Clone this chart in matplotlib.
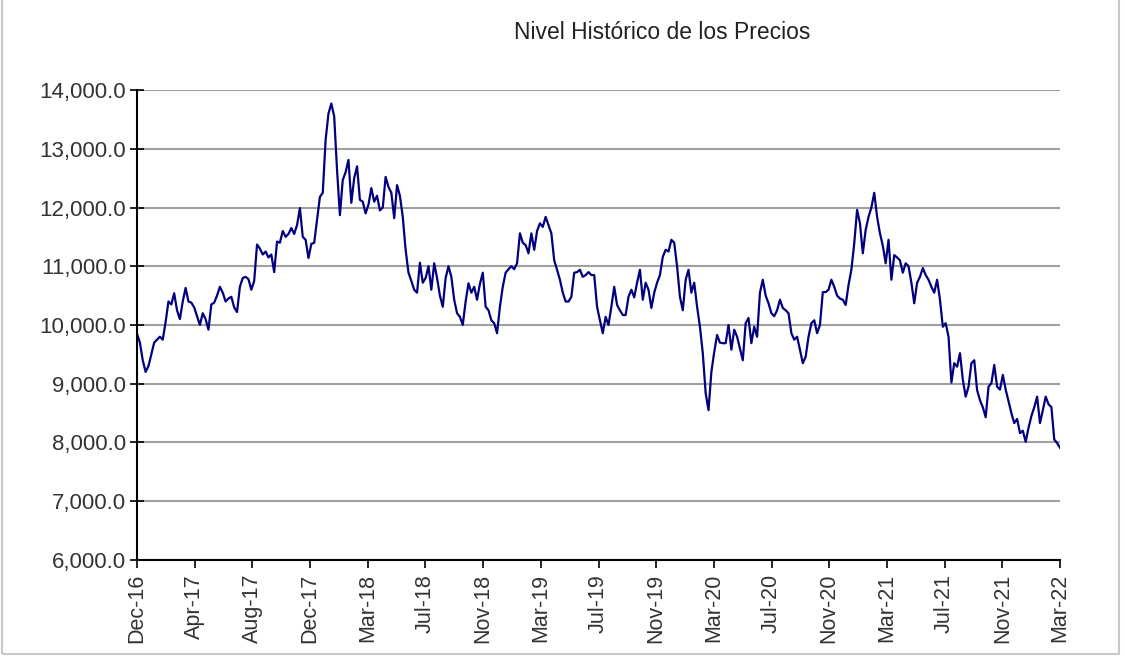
import numpy as np
import matplotlib
matplotlib.use('Agg')
import matplotlib.pyplot as plt
from matplotlib.ticker import FuncFormatter
from matplotlib.patches import Rectangle

plt.rcParams['font.family'] = ['Liberation Sans', 'DejaVu Sans']

title = 'Nivel Histórico de los Precios'

# approx. weekly price level, Dec-16 .. Mar-22
precios = [
    9850, 9700, 9400, 9200, 9300, 9500, 9700, 9750, 9800, 9750,
    10050, 10400, 10350, 10540, 10250, 10100, 10400, 10630, 10400, 10380,
    10300, 10150, 10000, 10200, 10100, 9920, 10350, 10380, 10500, 10650,
    10550, 10400, 10450, 10480, 10300, 10220, 10650, 10800, 10820,
    10780, 10600, 10750, 11370, 11300, 11200, 11250, 11150, 11200, 10900,
    11420, 11400, 11600, 11500, 11550, 11650, 11550, 11700, 11990, 11500,
    11450, 11140, 11380, 11400, 11790, 12180, 12250, 13150, 13600, 13770,
    13550, 12640, 11870, 12470, 12600, 12810, 12080, 12500, 12700, 12130,
    12100, 11900, 12050, 12330, 12100, 12200, 11950, 12000, 12520, 12350,
    12250, 11820, 12380, 12200, 11840, 11280, 10890, 10750, 10600, 10550,
    11060, 10720, 10800, 11000, 10600, 11050, 10800, 10500, 10310, 10800,
    11000, 10820, 10430, 10200, 10140, 10000, 10400, 10710, 10550, 10650,
    10430, 10700, 10890, 10310, 10250, 10080, 10030, 9860, 10310, 10650,
    10890, 10950, 11000, 10950, 11050, 11560, 11400, 11360, 11220, 11560,
    11280, 11600, 11730, 11670, 11840, 11700, 11560, 11100, 10940, 10770,
    10550, 10400, 10400, 10480, 10890, 10900, 10940, 10820,
    10850, 10900, 10850, 10850, 10310, 10080, 9860, 10140, 10000, 10310,
    10650, 10340, 10250, 10170, 10170, 10480, 10600, 10470, 10720, 10940,
    10430, 10720, 10600, 10290, 10550, 10720, 10850, 11160, 11280, 11250,
    11450, 11400, 11000, 10480, 10250, 10770, 10940, 10550, 10720, 10310,
    9970, 9520, 8840, 8550, 9200, 9540,
    9830, 9700, 9690, 9690, 10000, 9580, 9920, 9800, 9600, 9400,
    10030, 10120, 9690, 9970, 9800, 10550, 10770, 10500, 10370, 10200,
    10150, 10250, 10430, 10290, 10250, 10200, 9860, 9750, 9800, 9580,
    9350, 9460, 9800, 10030, 10080, 9860, 10000, 10560, 10560, 10600, 10770,
    10650, 10500, 10450, 10430, 10340, 10680, 10940, 11390, 11960, 11730,
    11220, 11620, 11840, 12000, 12250, 11840, 11560, 11350, 11050, 11450,
    10770, 11190, 11150, 11100, 10890, 11050, 11000, 10720, 10370, 10720,
    10820, 10970, 10850, 10770, 10650, 10550, 10770, 10430, 9970, 10030, 9800,
    9020, 9350, 9290, 9520, 9070, 8780, 8950, 9350, 9400, 8890,
    8720, 8600, 8430, 8950, 9010, 9320, 8950, 8900, 9150, 8900,
    8700, 8500, 8330, 8400, 8160, 8200, 8010, 8250, 8450, 8600,
    8780, 8330, 8550, 8780, 8650, 8600, 8050, 7990, 7910,
]

etiquetas_x = ['Dec-16', 'Apr-17', 'Aug-17', 'Dec-17', 'Mar-18', 'Jul-18',
               'Nov-18', 'Mar-19', 'Jul-19', 'Nov-19', 'Mar-20', 'Jul-20',
               'Nov-20', 'Mar-21', 'Jul-21', 'Nov-21', 'Mar-22']
y_ticks = [6000, 7000, 8000, 9000, 10000, 11000, 12000, 13000, 14000]

fig = plt.figure(figsize=(11.25, 6.58), dpi=100)
ax = fig.add_axes([0.1218, 0.149, 0.8204, 0.7142])

x = np.arange(len(precios))
ax.plot(x, precios, color='#000080', lw=1.6)

ax.set_ylim(6000, 14000)
ax.set_xlim(0, len(precios) - 1)
ax.set_yticks(y_ticks)
ax.yaxis.set_major_formatter(FuncFormatter(lambda v, p: '{:,.1f}'.format(v)))
ax.set_xticks(np.linspace(0, len(precios) - 1, len(etiquetas_x)))
ax.set_xticklabels(etiquetas_x, rotation=90)

ax.grid(axis='y', color='#a0a0a0', lw=1.5)
ax.set_axisbelow(True)
for s in ['top', 'right']:
    ax.spines[s].set_visible(False)
for s in ['left', 'bottom']:
    ax.spines[s].set_color('black')
    ax.spines[s].set_linewidth(1.5)

ax.tick_params(axis='y', direction='inout', length=10, width=1.2,
               labelsize=16, labelcolor='#333333', pad=3)
ax.tick_params(axis='x', direction='out', length=6, width=1.2,
               labelsize=15.5, labelcolor='#333333', pad=4)

fig.text(0.5885, 0.95, title, ha='center', va='center', fontsize=16.5,
         color='#222222')

# light frame around the picture
fig.patches.append(Rectangle((0.002, 0.006), 0.993, 1.2, transform=fig.transFigure,
                             fill=False, edgecolor='#c8c8c8', lw=1.5))

fig.savefig('out.png', dpi=100)
